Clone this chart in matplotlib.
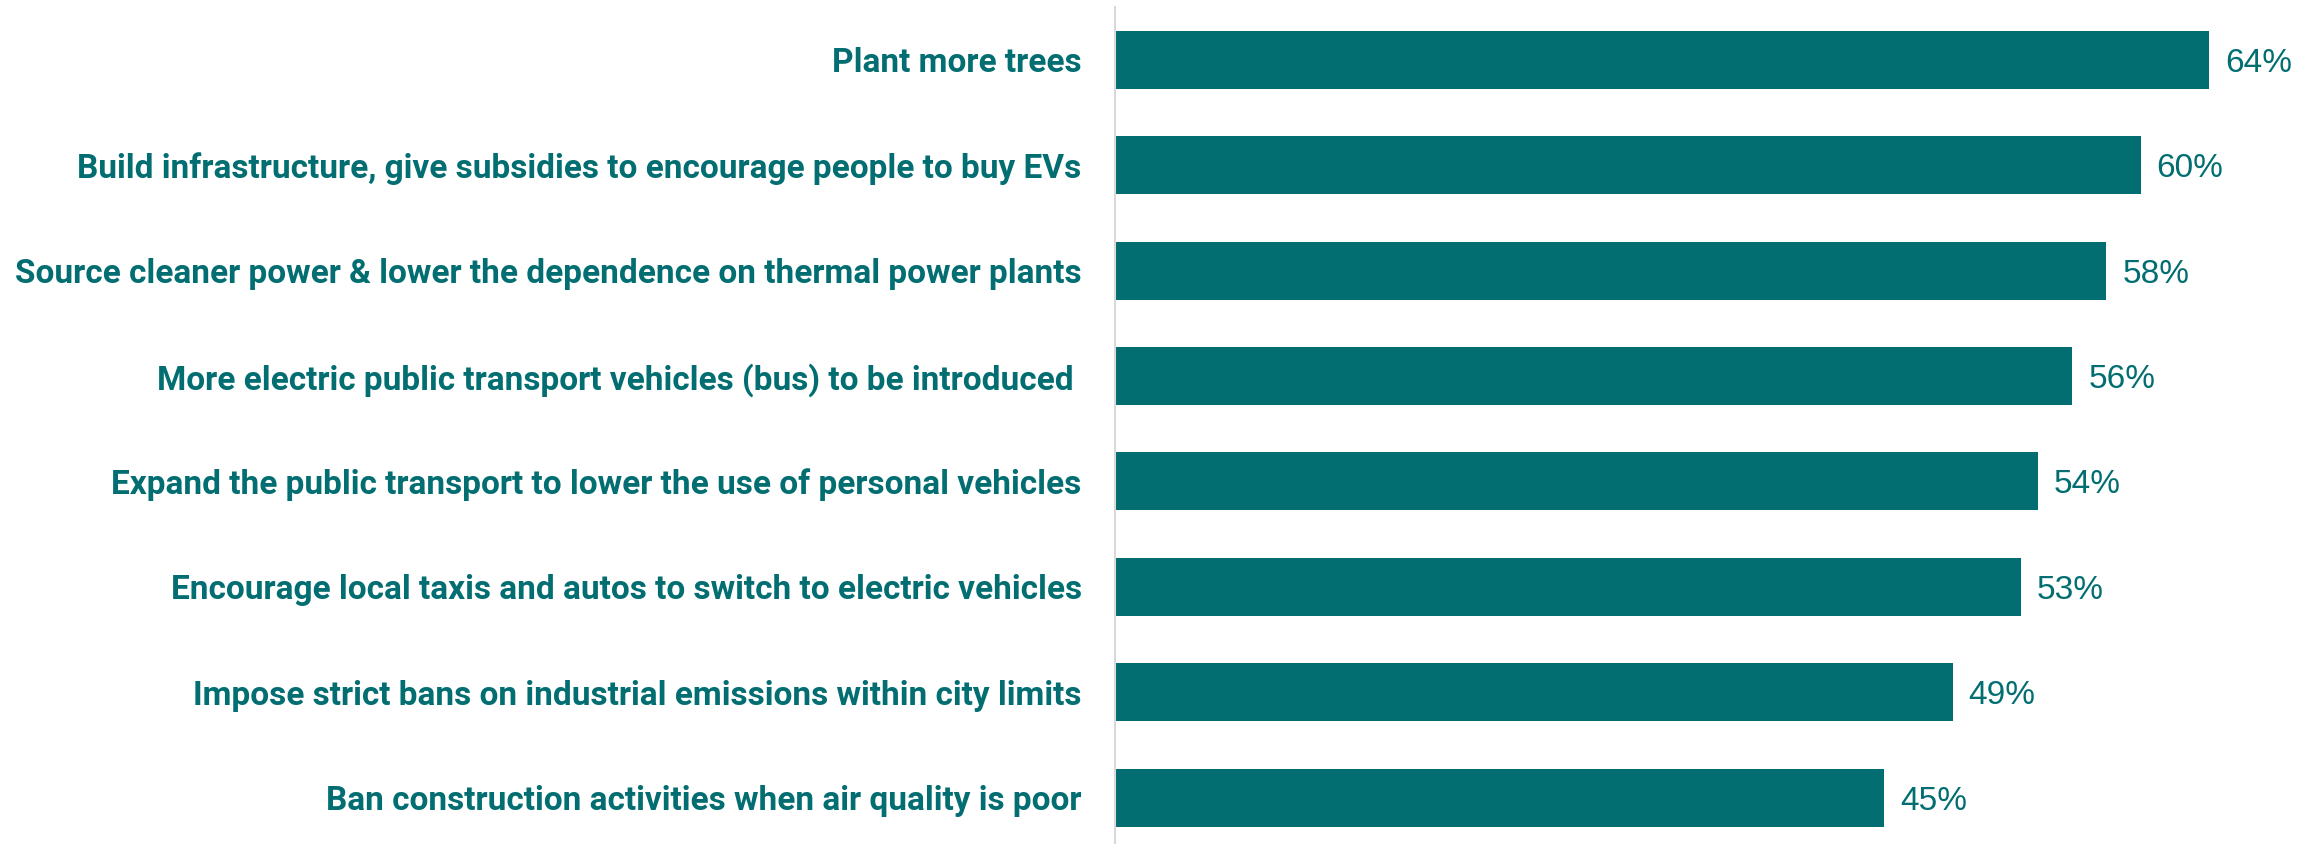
import matplotlib
matplotlib.use("Agg")
import matplotlib.pyplot as plt

categories = [
    "Plant more trees",
    "Build infrastructure, give subsidies to encourage people to buy EVs",
    "Source cleaner power & lower the dependence on thermal power plants",
    "More electric public transport vehicles (bus) to be introduced ",
    "Expand the public transport to lower the use of personal vehicles",
    "Encourage local taxis and autos to switch to electric vehicles",
    "Impose strict bans on industrial emissions within city limits",
    "Ban construction activities when air quality is poor",
]
values = [64, 60, 58, 56, 54, 53, 49, 45]
value_labels = ["64%", "60%", "58%", "56%", "54%", "53%", "49%", "45%"]

teal = "#026E71"

fig = plt.figure(figsize=(23.15, 8.44), dpi=100)
ax = fig.add_axes([1115 / 2315, 0.0, 1 - 1115 / 2315, 1 - 7 / 844])

y = list(range(len(categories)))
bars = ax.barh(y, values, height=0.55, color=teal, edgecolor="none")

ax.set_xlim(0, 70.2)
ax.set_ylim(7.44, -0.5)

for b, lab in zip(bars, value_labels):
    ax.annotate(lab, xy=(b.get_width(), b.get_y() + b.get_height() / 2),
                xytext=(11.5, -2.5), textcoords="offset points",
                ha="left", va="center", color=teal,
                fontsize=24, family="Liberation Sans")

ax.set_yticks(y)
ax.set_yticklabels(categories, fontsize=24, fontweight="bold",
                   family="Roboto", color=teal)
ax.tick_params(axis="y", length=0, pad=24)
ax.set_xticks([])

for s in ["top", "right", "bottom"]:
    ax.spines[s].set_visible(False)
ax.spines["left"].set_color("#D9D9D9")
ax.spines["left"].set_linewidth(1.5)

fig.savefig("out.png", dpi=100, facecolor="white")
